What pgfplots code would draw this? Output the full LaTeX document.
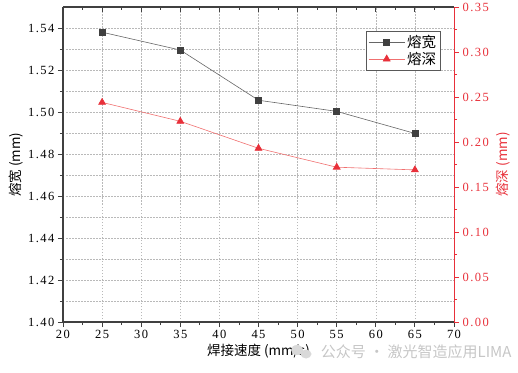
\documentclass[border=0pt]{standalone}
\usepackage{pgfplots}
\pgfplotsset{compat=1.18}
\usepackage{fontspec}
\setmainfont{Noto Sans CJK SC}
\newfontfamily\numfont[LetterSpace=12]{Liberation Serif}
\newcommand\nf[1]{{\numfont\fontsize{12.5}{13}\selectfont #1}}
\definecolor{rr}{HTML}{E8303A}
\definecolor{rline}{HTML}{F07070}
\definecolor{kk}{HTML}{404040}
\begin{document}
\begin{tikzpicture}
\pgfplotsset{
  common/.style={
    scale only axis, width=391pt, height=315pt,
    xmin=20, xmax=70,
    major tick length=5pt, minor tick length=3pt,
    x axis line style={-}, y axis line style={-},
  }
}
\begin{axis}[common, name=main,
  ymin=1.40, ymax=1.55,
  xtick={20,25,30,35,40,45,50,55,60,65,70},
  xticklabels={\nf{20},\nf{25},\nf{30},\nf{35},\nf{40},\nf{45},\nf{50},\nf{55},\nf{60},\nf{65},\nf{70}},
  ytick={1.40,1.42,1.44,1.46,1.48,1.50,1.52,1.54},
  yticklabels={\nf{1.40},\nf{1.42},\nf{1.44},\nf{1.46},\nf{1.48},\nf{1.50},\nf{1.52},\nf{1.54}},
  minor x tick num=1, minor y tick num=1,
  axis x line*=bottom, axis y line*=left,
  tick align=outside,
  tick style={kk, line width=0.9pt},
  axis line style={kk, line width=1.4pt},
  xmajorgrids, ymajorgrids, yminorgrids,
  major grid style={gray!55, dash pattern=on 1.5pt off 1.5pt, line width=0.6pt},
  minor grid style={gray!55, dash pattern=on 1.5pt off 1.5pt, line width=0.6pt},
  xlabel={焊接速度 (mm/s)}, ylabel={熔宽 (mm)},
  ylabel style={yshift=-2pt, font=\fontsize{13.5}{14}\selectfont},
  xlabel style={yshift=2pt, font=\fontsize{13.5}{14}\selectfont},
]
\addplot[gray!80!black, line width=0.6pt, mark=square*, mark size=3pt,
  mark options={fill=kk, draw=kk, solid}]
  coordinates {(25,1.538) (35,1.5295) (45,1.5056) (55,1.5003) (65,1.4898)};
\coordinate (sw) at (rel axis cs:0,0);
\coordinate (ne) at (rel axis cs:1,1);
\end{axis}
\begin{axis}[common,
  ymin=1.40, ymax=1.55,
  axis x line*=top, axis y line=none,
  xtick={20,25,30,35,40,45,50,55,60,65,70},
  minor x tick num=1, xticklabels={},
  tick align=inside,
  tick style={kk, line width=0.9pt},
  axis line style={kk, line width=1.4pt},
]
\end{axis}
\begin{axis}[common,
  ymin=0, ymax=0.35,
  axis y line*=right, axis x line=none,
  yticklabel pos=right, ylabel near ticks,
  ytick={0,0.05,0.10,0.15,0.20,0.25,0.30,0.35},
  yticklabels={\nf{0.00},\nf{0.05},\nf{0.10},\nf{0.15},\nf{0.20},\nf{0.25},\nf{0.30},\nf{0.35}},
  minor y tick num=1,
  tick align=outside,
  y axis line style={rr, line width=1pt},
  tick style={rr, line width=0.9pt},
  yticklabel style={rr},
  ylabel={熔深 (mm)}, ylabel style={rr, font=\fontsize{13.5}{14}\selectfont},
  legend style={at={(0.966,0.925)}, anchor=north east, draw=gray!70!black,
    font=\fontsize{14.5}{15}\selectfont, inner sep=2.5pt, row sep=-1pt,
    cells={anchor=west}},
  legend cell align=left,
  legend image code/.code={\draw[mark repeat=2, mark phase=2] plot coordinates {(0pt,0pt) (18pt,0pt) (36pt,0pt)};},
]
\addlegendimage{gray!80!black, line width=0.6pt, mark=square*, mark size=3pt,
  mark options={fill=kk, draw=kk, solid}}
\addlegendentry{熔宽}
\addplot[rline, line width=0.6pt, mark=triangle*, mark size=4pt,
  mark options={fill=rr, draw=rr, solid}]
  coordinates {(25,0.244) (35,0.223) (45,0.193) (55,0.172) (65,0.169)};
\addlegendentry{熔深}
\end{axis}
\fill[gray!30] ([shift={(234pt,-28pt)}]sw) ellipse[x radius=6pt, y radius=5pt];
\fill[gray!30] ([shift={(243pt,-32pt)}]sw) ellipse[x radius=5.5pt, y radius=4.5pt];
\node[anchor=east, text=gray!45, font=\fontsize{15}{16}\selectfont] at ([shift={(452pt,-30pt)}]sw) {公众号 · 激光智造应用LIMA};
\pgfresetboundingbox
\path ([shift={(-63pt,-50pt)}]sw) rectangle ([shift={(64pt,7pt)}]ne);
\end{tikzpicture}
\end{document}
